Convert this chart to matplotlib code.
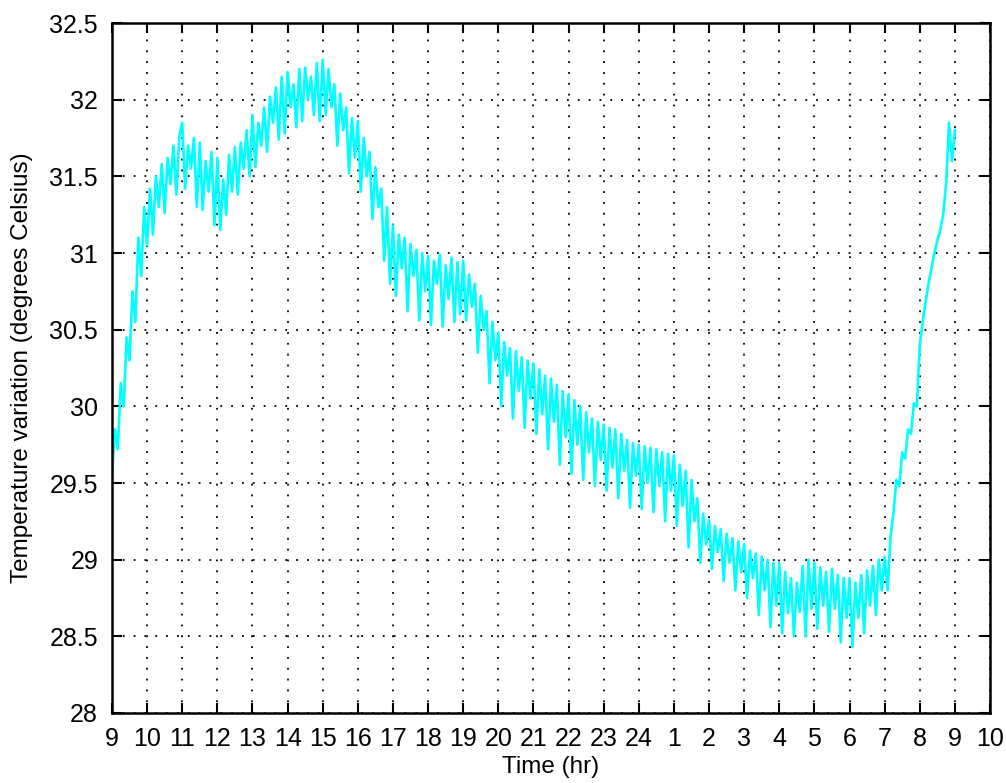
import numpy as np
import matplotlib
matplotlib.use("Agg")
import matplotlib.pyplot as plt

plt.rcParams['font.family'] = ['Liberation Sans', 'DejaVu Sans']

# temperature readings every 5 minutes, starting at 9:00 (one row per hour)
temp = [
    29.55, 29.85, 29.72, 30.15, 30.00, 30.45, 30.30, 30.75, 30.55, 31.10, 30.85, 31.30,  # 9
    31.05, 31.42, 31.12, 31.50, 31.30, 31.58, 31.26, 31.62, 31.45, 31.70, 31.38, 31.76,  # 10
    31.85, 31.42, 31.70, 31.55, 31.75, 31.30, 31.72, 31.28, 31.60, 31.40, 31.66, 31.18,  # 11
    31.62, 31.15, 31.48, 31.25, 31.64, 31.40, 31.69, 31.38, 31.72, 31.55, 31.80, 31.50,  # 12
    31.90, 31.56, 31.85, 31.70, 31.95, 31.66, 32.02, 31.85, 32.08, 31.74, 32.15, 31.78,  # 13
    32.18, 31.95, 32.10, 31.82, 32.20, 31.86, 32.21, 32.00, 32.15, 31.90, 32.24, 31.86,  # 14
    32.26, 31.90, 32.20, 31.95, 32.10, 31.70, 32.04, 31.80, 31.95, 31.52, 31.88, 31.62,  # 15
    31.86, 31.40, 31.75, 31.50, 31.66, 31.22, 31.56, 31.30, 31.42, 30.95, 31.30, 30.80,  # 16
    31.18, 30.72, 31.12, 30.90, 31.10, 30.62, 31.06, 30.85, 31.02, 30.56, 31.00, 30.75,  # 17
    30.98, 30.53, 30.95, 30.80, 30.99, 30.52, 30.92, 30.70, 30.97, 30.55, 30.94, 30.60,  # 18
    30.95, 30.56, 30.86, 30.65, 30.80, 30.35, 30.72, 30.50, 30.62, 30.15, 30.55, 30.30,  # 19
    30.48, 30.00, 30.42, 30.20, 30.38, 29.92, 30.36, 30.10, 30.32, 29.86, 30.30, 30.05,  # 20
    30.28, 29.82, 30.24, 29.95, 30.20, 29.72, 30.18, 29.90, 30.14, 29.62, 30.10, 29.80,  # 21
    30.08, 29.56, 30.04, 29.75, 30.00, 29.52, 29.96, 29.70, 29.92, 29.48, 29.90, 29.65,  # 22
    29.88, 29.45, 29.86, 29.60, 29.85, 29.40, 29.82, 29.58, 29.78, 29.34, 29.76, 29.55,  # 23
    29.75, 29.33, 29.74, 29.50, 29.73, 29.31, 29.72, 29.48, 29.70, 29.25, 29.69, 29.45,  # 24
    29.68, 29.22, 29.62, 29.35, 29.58, 29.08, 29.52, 29.25, 29.40, 28.98, 29.30, 29.10,  # 1
    29.26, 28.94, 29.22, 29.05, 29.20, 28.86, 29.17, 28.98, 29.14, 28.80, 29.12, 28.92,  # 2
    29.10, 28.75, 29.06, 28.88, 29.04, 28.64, 29.02, 28.80, 29.00, 28.56, 28.98, 28.70,  # 3
    28.98, 28.52, 28.92, 28.65, 28.88, 28.50, 28.85, 28.66, 28.96, 28.50, 29.00, 28.68,  # 4
    28.98, 28.55, 28.95, 28.70, 28.92, 28.53, 28.94, 28.68, 28.90, 28.46, 28.88, 28.62,  # 5
    28.88, 28.43, 28.85, 28.62, 28.90, 28.52, 28.93, 28.70, 28.96, 28.64, 29.00, 28.80,  # 6
    29.02, 28.80, 29.15, 29.30, 29.52, 29.48, 29.70, 29.66, 29.85, 29.82, 30.02, 30.00,  # 7
    30.40, 30.55, 30.68, 30.80, 30.90, 31.00, 31.08, 31.15, 31.25, 31.45, 31.85, 31.60,  # 8
    31.80,  # 9
]

tick_labels = ['9', '10', '11', '12', '13', '14', '15', '16', '17', '18', '19', '20',
               '21', '22', '23', '24', '1', '2', '3', '4', '5', '6', '7', '8', '9', '10']
y_ticks = [28, 28.5, 29, 29.5, 30, 30.5, 31, 31.5, 32, 32.5]

hours = np.arange(len(temp)) / 12.0

fig = plt.figure(figsize=(10.06, 7.83), dpi=100)
ax = fig.add_axes([0.1113, 0.0894, 0.8728, 0.8812])

ax.plot(hours, temp, color='cyan', linewidth=1.9)

ax.set_xlim(0, len(tick_labels) - 1)
ax.set_ylim(28, 32.5)
ax.set_xticks(range(len(tick_labels)))
ax.set_xticklabels(tick_labels)
ax.set_yticks(y_ticks)
ax.set_yticklabels(['28', '28.5', '29', '29.5', '30', '30.5', '31', '31.5', '32', '32.5'])

ax.grid(True, color='black', linestyle=(0, (1, 5)), linewidth=1.3)
ax.tick_params(direction='in', length=7, width=1.5, labelsize=18,
               top=True, right=True, pad=10)
for sp in ax.spines.values():
    sp.set_linewidth(1.8)

ax.set_xlabel('Time (hr)', fontsize=17.5, labelpad=4)
ax.set_ylabel('Temperature variation (degrees Celsius)', fontsize=17.5, labelpad=12)

fig.savefig('out.png', dpi=100)
